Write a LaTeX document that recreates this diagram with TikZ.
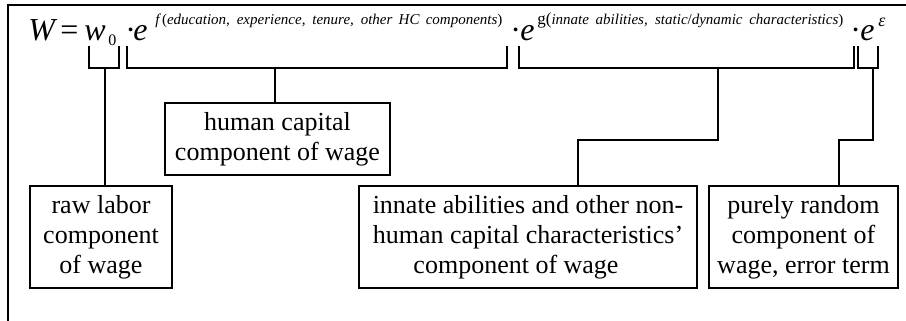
\documentclass[tikz,border=0pt]{standalone}
\usepackage{fontspec}
\setmainfont{Liberation Serif}
\begin{document}
\begin{tikzpicture}[x=0.5pt,y=-0.5pt,
  lbl/.style={draw, line width=0.75pt, align=center, inner sep=0pt, font=\fontsize{13}{15}\selectfont},
  conn/.style={line width=0.6pt},
  frm/.style={line width=1pt},
  big/.style={anchor=base west, inner sep=0pt, font=\fontsize{16}{18}\selectfont\itshape},
  bigup/.style={anchor=base west, inner sep=0pt, font=\fontsize{16}{18}\selectfont},
  sup/.style={anchor=base west, inner sep=0pt, font=\fontsize{7.5}{9}\selectfont\itshape},
]
\useasboundingbox (0,0) rectangle (906,321);
% frame
\coordinate (fa) at (8,321);
\coordinate (fb) at (8,5);
\coordinate (fc) at (906,5);
\draw[frm] (fa) -- (fb) -- (fc);
% formula
\node[big] (W) at (28,40) {W};
\node[bigup] (eq) at (60,40) {=};
\node[big] (w) at (84,40) {w};
\node[anchor=base west, inner sep=0pt, font=\fontsize{8}{9}\selectfont] (z) at (108,46) {0};
\node[bigup] (d1) at (125,40) {·};
\node[big] (e1) at (133,40) {e};
\node[sup] (f) at (155,25) {\makebox[173.5pt][s]{f\,{\upshape(}education, experience, tenure, other HC components{\upshape)}}};
\node[bigup] (d2) at (510,40) {·};
\node[big] (e2) at (520,40) {e};
\node[sup] (g) at (537,25) {\makebox[153pt][s]{{\fontsize{8.5}{9}\selectfont\upshape g(}innate abilities, static{\upshape/}dynamic characteristics{\upshape)}}};
\node[bigup] (d3) at (850,40) {·};
\node[big] (e3) at (860,40) {e};
\node[anchor=base west, inner sep=0pt, font=\fontsize{9}{10}\selectfont\itshape] (eps) at (878,26) {ε};
% boxes
\node[lbl, minimum width=71pt, minimum height=51pt] (raw) at (101,237) {raw labor\\component\\of wage};
\node[lbl, minimum width=112.5pt, minimum height=36pt] (hc) at (277.5,139) {human capital\\component of wage};
\node[lbl, minimum width=169pt, minimum height=51pt] (inn) at (528,237) {innate abilities and other non-\\human capital characteristics’\\component of wage\hspace*{12pt}};
\node[lbl, minimum width=94.5pt, minimum height=51pt] (rnd) at (803.5,237) {purely random\\component of\\wage, error term};
% brackets
\coordinate (a1) at (89,46); \coordinate (a2) at (89,68); \coordinate (a3) at (119,68); \coordinate (a4) at (119,46);
\draw[conn] (a1) -- (a2) -- (a3) -- (a4);
\coordinate (b1) at (127,46); \coordinate (b2) at (127,68); \coordinate (b3) at (507,68); \coordinate (b4) at (507,46);
\draw[conn] (b1) -- (b2) -- (b3) -- (b4);
\coordinate (c1) at (519,46); \coordinate (c2) at (519,68); \coordinate (c3) at (854,68); \coordinate (c4) at (854,46);
\draw[conn] (c1) -- (c2) -- (c3) -- (c4);
\coordinate (g1) at (858,46); \coordinate (g2) at (858,68); \coordinate (g3) at (878,68); \coordinate (g4) at (878,46);
\draw[conn] (g1) -- (g2) -- (g3) -- (g4);
% stems
\coordinate (s1) at (105,68);
\draw[conn] (s1) -- (s1 |- raw.north);
\coordinate (s2) at (275,68);
\draw[conn] (s2) -- (s2 |- hc.north);
\coordinate (s3) at (718,68); \coordinate (k3) at (578,140);
\draw[conn] (s3) |- (k3) -- (k3 |- inn.north);
\coordinate (s4) at (873,68); \coordinate (k4) at (839,140);
\draw[conn] (s4) |- (k4) -- (k4 |- rnd.north);
\end{tikzpicture}
\end{document}
